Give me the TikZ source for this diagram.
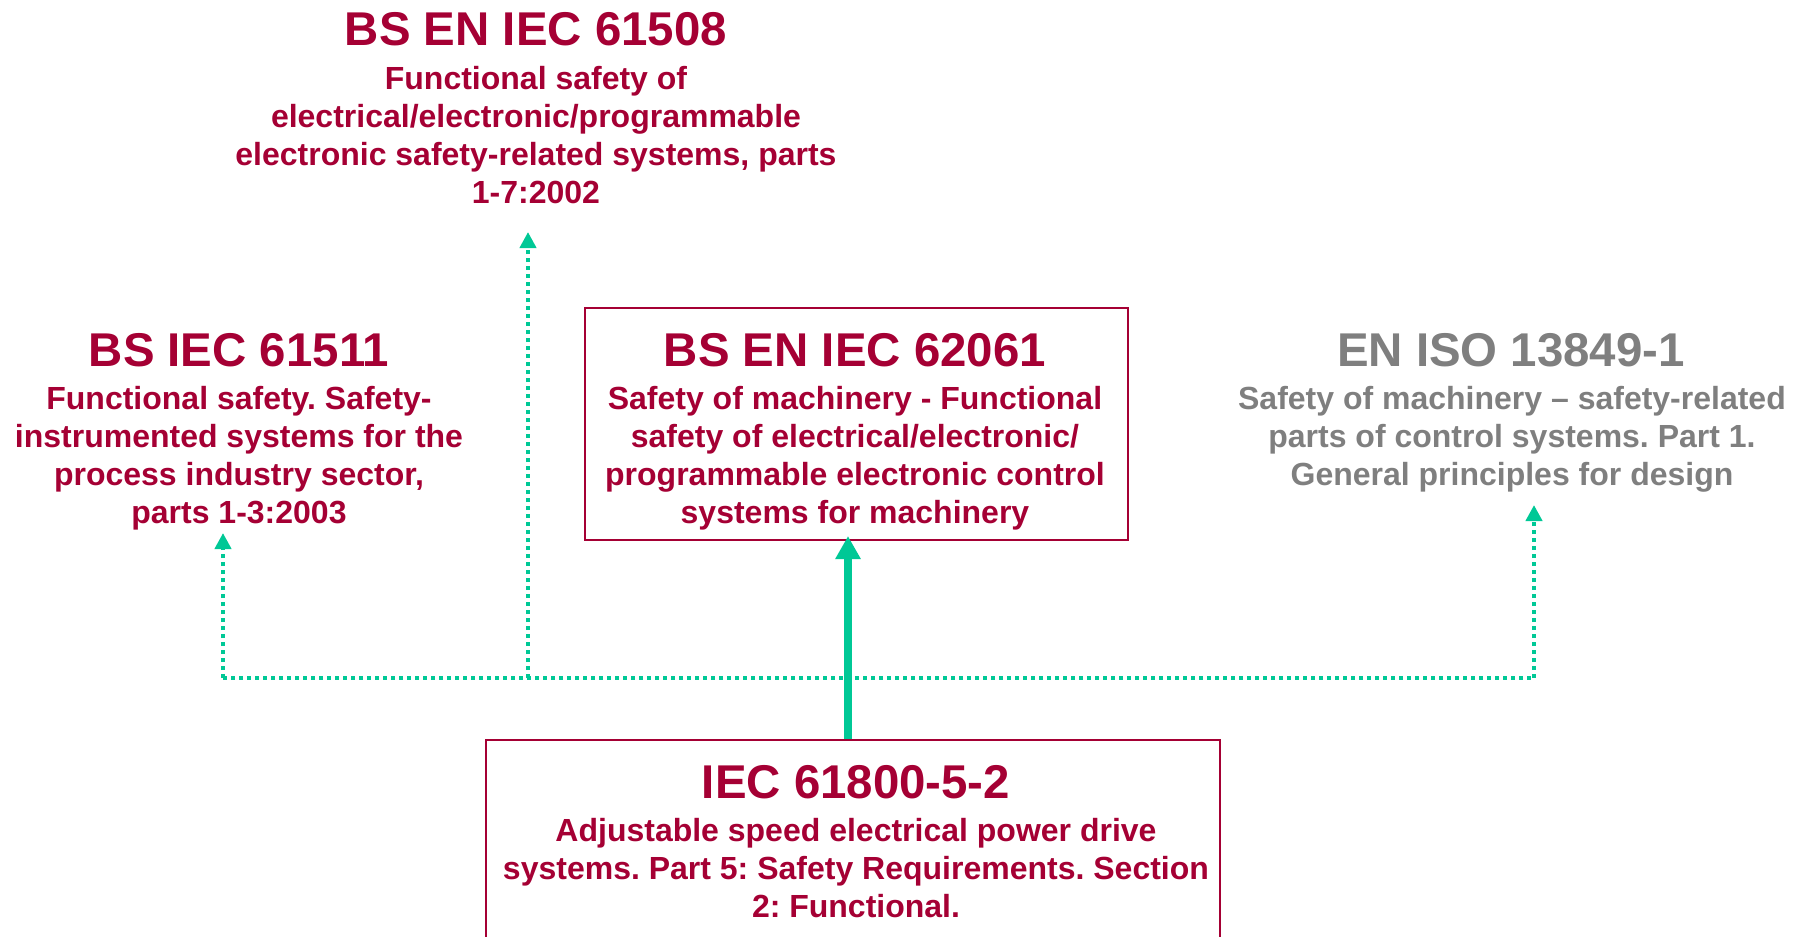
\documentclass[tikz,border=0pt]{standalone}
\usepackage{fontspec}
\setmainfont{Liberation Sans}
\usetikzlibrary{arrows.meta}
\definecolor{lgred}{HTML}{A50034}
\definecolor{stdgrey}{HTML}{7F7F7F}
\definecolor{linkgreen}{HTML}{00C896}
\frenchspacing
\begin{document}
\begin{tikzpicture}[x=0.5pt,y=-0.5pt,
  stdtitle/.style={anchor=base, inner sep=0pt, font=\fontsize{23.7pt}{28pt}\selectfont\bfseries},
  stddesc/.style={anchor=north, inner sep=0pt, align=center, font=\fontsize{16pt}{19pt}\selectfont\bfseries},
  redbox/.style={draw=lgred, line width=1pt, inner sep=0pt},
  dotline/.style={draw=linkgreen, line width=2pt, dash pattern=on 2pt off 2pt},
  dotlink/.style={dotline, -{Triangle[width=8pt,length=8pt]}},
  mainlink/.style={draw=linkgreen, line width=4pt, -{Triangle[width=12pt,length=11.5pt]}}
]
\clip (0,0) rectangle (1800,937);
\useasboundingbox (0,0) rectangle (1800,937);

% boxes
\node[redbox, minimum width=271.5pt, minimum height=116pt] (mbox) at (856.5,424) {};
\node[redbox, minimum width=367pt, minimum height=130pt] (bbox) at (853,870) {};

% top standard
\node[stdtitle, text=lgred] (ttitle) at (536,46) {BS EN IEC 61508};
\node[stddesc, text=lgred] (tdesc) at (536,63.5) {\rule{0pt}{13pt}Functional safety of\\electrical/electronic/programmable\\electronic safety-related systems, parts\\1-7:2002};

% left standard
\node[stdtitle, text=lgred] (ltitle) at (239,366) {BS IEC 61511};
\node[stddesc, text=lgred] (ldesc) at (239,383.5) {\rule{0pt}{13pt}Functional safety. Safety-\\instrumented systems for the\\process industry sector,\\parts 1-3:2003};

% middle standard
\node[stdtitle, text=lgred] (mtitle) at (855,366) {BS EN IEC 62061};
\node[stddesc, text=lgred] (mdesc) at (855,383.5) {\rule{0pt}{13pt}Safety of machinery - Functional\\safety of electrical/electronic/\\programmable electronic control\\systems for machinery};

% right standard
\node[stdtitle, text=stdgrey] (rtitle) at (1511,366) {EN ISO 13849-1};
\node[stddesc, text=stdgrey] (rdesc) at (1512,383.5) {\rule{0pt}{13pt}Safety of machinery -- safety-related\\parts of control systems. Part 1.\\General principles for design};

% bottom standard
\node[stdtitle, text=lgred] (btitle) at (856,798) {IEC 61800-5-2};
\node[stddesc, text=lgred] (bdesc) at (856,815.5) {\rule{0pt}{13pt}Adjustable speed electrical power drive\\systems. Part 5: Safety Requirements. Section\\2: Functional.};

% connectors
\coordinate (jl) at (223,678);
\coordinate (jm) at (528,678);
\coordinate (jr) at (1534,678);
\coordinate (tl) at (223,533);
\coordinate (tm) at (528,232);
\coordinate (tr) at (1534,505);

\draw[dotline] (jl) -- (jr);
\draw[dotlink] (jl) -- (tl);
\draw[dotlink] (jm) -- (tm);
\draw[dotlink] (jr) -- (tr);
\draw[mainlink] ([xshift=-2.5pt]bbox.north) -- ([xshift=-4.25pt,yshift=2.5pt]mbox.south);
\end{tikzpicture}
\end{document}
